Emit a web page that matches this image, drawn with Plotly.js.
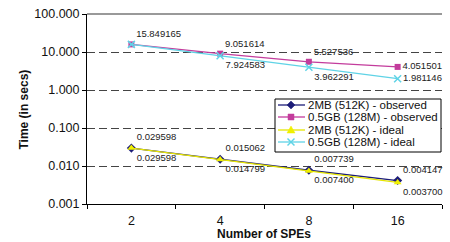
<!DOCTYPE html>
<html><head><meta charset="utf-8">
<script src="https://cdn.plot.ly/plotly-3.0.1.min.js"></script>
<style>html,body{margin:0;padding:0;background:#fff}#c{width:450px;height:242px}</style>
</head><body><div id="c"></div>
<script>
const spes = ['2','4','8','16'];
const obs2MB = [0.029598, 0.015062, 0.007739, 0.004147];
const obs05GB = [15.849165, 9.051614, 5.527536, 4.051501];
const ideal2MB = [0.029598, 0.014799, 0.007400, 0.003700];
const ideal05GB = [15.849165, 7.924583, 3.962291, 1.981146];
const obs05GBLabels = ['15.849165','9.051614','5.527536','4.051501'];
const ideal05GBLabels = ['','7.924583','3.962291','1.981146'];
const obs2MBLabels = ['0.029598','0.015062','0.007739','0.004147'];
const ideal2MBLabels = ['0.029598','0.014799','0.007400','0.003700'];
const yTicks = [0.001,0.01,0.1,1,10,100];
const yTickText = ['0.001','0.010','0.100','1.000','10.000','100.000'];
const seriesNames = ['2MB (512K) - observed','0.5GB (128M) - observed','2MB (512K) - ideal','0.5GB (128M) - ideal'];
const seriesColors = ['#1c1c78','#c33c9c','#f0f000','#5fd3e6'];
const xTitle = 'Number of SPEs';
const yTitle = 'Time (in secs)';

const tf = {family:'Liberation Sans, Arial, sans-serif', size:9.5, color:'#222'};
const traces = [
 {x:spes, y:obs2MB, name:seriesNames[0], mode:'lines+markers+text', text:obs2MBLabels, cliponaxis:false,
  textposition:'top right', textfont:tf,
  line:{color:seriesColors[0],width:1.3}, marker:{symbol:'diamond',size:7,color:seriesColors[0]}},
 {x:spes, y:obs05GB, name:seriesNames[1], mode:'lines+markers+text', text:obs05GBLabels, cliponaxis:false,
  textposition:['top right','top right','top right','middle right'], textfont:tf,
  line:{color:seriesColors[1],width:1.3}, marker:{symbol:'square',size:6,color:seriesColors[1]}},
 {x:spes, y:ideal2MB, name:seriesNames[2], mode:'lines+markers+text', text:ideal2MBLabels, cliponaxis:false,
  textposition:'bottom right', textfont:tf,
  line:{color:'#e6e600',width:1.3}, marker:{symbol:'triangle-up',size:7,color:seriesColors[2]}},
 {x:spes, y:ideal05GB, name:seriesNames[3], mode:'lines+markers+text', text:ideal05GBLabels, cliponaxis:false,
  textposition:['bottom right','bottom right','bottom right','middle right'], textfont:tf,
  line:{color:seriesColors[3],width:1.3}, marker:{symbol:'x-thin',size:7,color:seriesColors[3],line:{color:seriesColors[3],width:1.5}}}
];

// custom legend (pixel positions converted to paper coords)
const L=87, R=442, T=14, B=204;
const px = v => (v-L)/(R-L);
const py = v => (B-v)/(B-T);
const shapes = [
 {type:'line', xref:'paper', yref:'paper', x0:0, x1:1, y0:1, y1:1, line:{color:'#777', width:1.5}},
 {type:'rect', xref:'paper', yref:'paper', x0:px(275), x1:px(441), y0:py(152), y1:py(99), fillcolor:'#fff', line:{color:'#000', width:1}, layer:'above'}
];
const annotations = [
 {xref:'paper', yref:'paper', x:px(263.5), y:py(234), xanchor:'center', yanchor:'middle', text:'<b>'+xTitle+'</b>', showarrow:false, font:{size:12, color:'#111'}},
 {xref:'paper', yref:'paper', x:px(23.5), y:py(109), xanchor:'center', yanchor:'middle', text:'<b>'+yTitle+'</b>', textangle:-90, showarrow:false, font:{size:12, color:'#111'}}
];
const rows = [105, 117, 130, 142];
function path(pts){ return 'M'+pts.map(p=>px(p[0])+','+py(p[1])).join(' L')+' Z'; }
rows.forEach((ry,i)=>{
  const c = seriesColors[i];
  shapes.push({type:'line', xref:'paper', yref:'paper', x0:px(278), x1:px(305), y0:py(ry), y1:py(ry), line:{color:i===2?'#e6e600':c, width:1.3}, layer:'above'});
  const mx=291;
  if(i===0) shapes.push({type:'path', xref:'paper', yref:'paper', path:path([[mx,ry-4],[mx+4,ry],[mx,ry+4],[mx-4,ry]]), fillcolor:c, line:{color:c,width:0.5}, layer:'above'});
  if(i===1) shapes.push({type:'path', xref:'paper', yref:'paper', path:path([[mx-3,ry-3],[mx+3,ry-3],[mx+3,ry+3],[mx-3,ry+3]]), fillcolor:c, line:{color:c,width:0.5}, layer:'above'});
  if(i===2) shapes.push({type:'path', xref:'paper', yref:'paper', path:path([[mx,ry-4],[mx+4,ry+3],[mx-4,ry+3]]), fillcolor:c, line:{color:c,width:0.5}, layer:'above'});
  if(i===3){
    shapes.push({type:'line', xref:'paper', yref:'paper', x0:px(mx-3.5), x1:px(mx+3.5), y0:py(ry-3.5), y1:py(ry+3.5), line:{color:c,width:1.5}, layer:'above'});
    shapes.push({type:'line', xref:'paper', yref:'paper', x0:px(mx-3.5), x1:px(mx+3.5), y0:py(ry+3.5), y1:py(ry-3.5), line:{color:c,width:1.5}, layer:'above'});
  }
  annotations.push({xref:'paper', yref:'paper', x:px(306), y:py(ry), xanchor:'left', yanchor:'middle', text:seriesNames[i], showarrow:false,
    font:{size:11.5, color:'#111'}});
});

const layout = {
 width:450, height:242, margin:{l:L,r:450-R,t:T,b:242-B},
 paper_bgcolor:'#fff', plot_bgcolor:'#fff',
 font:{family:'Liberation Sans, Arial, sans-serif', size:10, color:'#111'},
 showlegend:false,
 xaxis:{type:'category', range:[-0.5,3.5], autorange:false, tickson:'boundaries', ticks:'outside', ticklen:4, tickcolor:'#000',
   showline:true, linecolor:'#000', linewidth:1, showgrid:false, zeroline:false, ticklabelstandoff:5,
   tickfont:{size:12.5}},
 yaxis:{type:'log', range:[-3,2], autorange:false, tickvals:yTicks, ticktext:yTickText, ticks:'outside', ticklen:4, tickcolor:'#000',
   showline:true, linecolor:'#000', linewidth:1, showgrid:true, gridcolor:'#444', griddash:'8px,4px', gridwidth:1,
   zeroline:false, tickfont:{size:12.5}},
 shapes:shapes, annotations:annotations
};
Plotly.newPlot('c', traces, layout, {staticPlot:true, displayModeBar:false});
</script></body></html>
